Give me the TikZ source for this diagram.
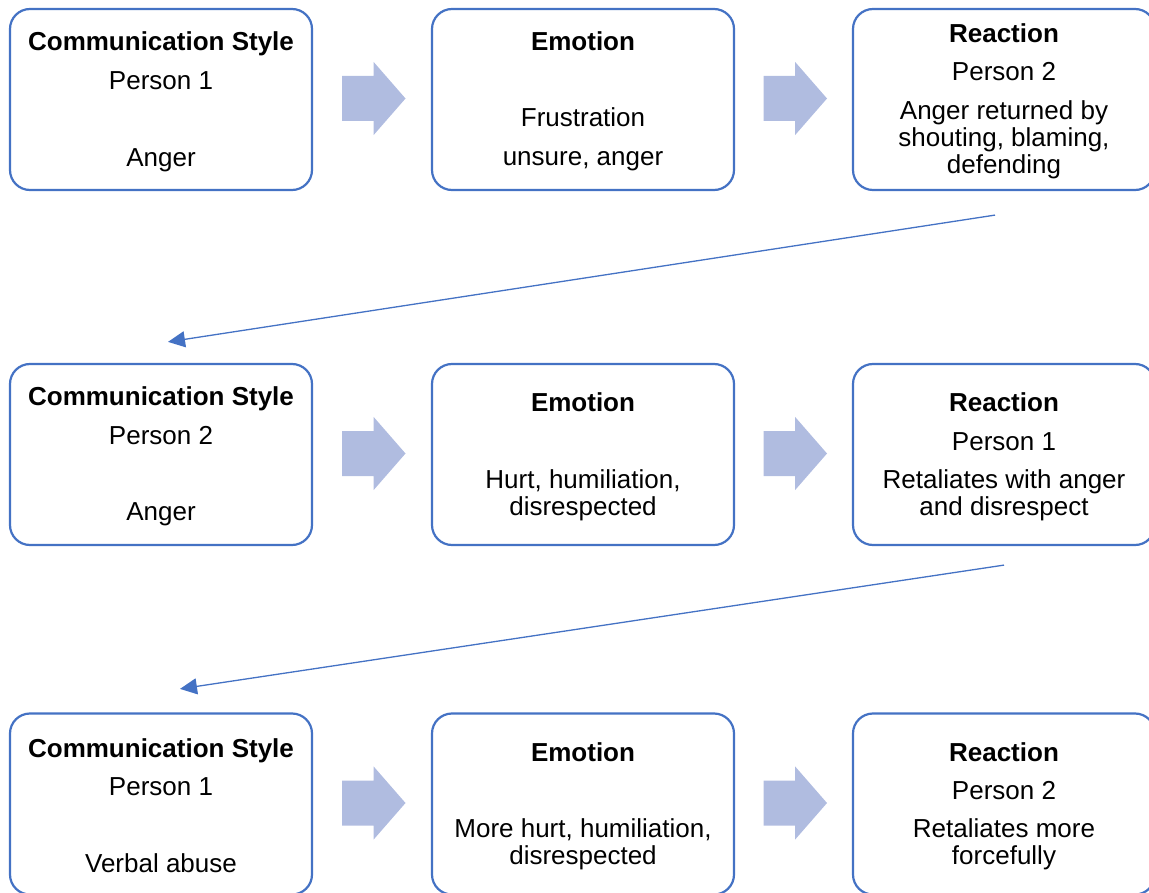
\documentclass[tikz,border=0pt]{standalone}
\usepackage{fontspec}
\setmainfont{Liberation Sans}
\usetikzlibrary{arrows.meta,calc}
\definecolor{boxblue}{RGB}{68,114,196}
\definecolor{arrowfill}{RGB}{176,188,224}
\tikzset{
  stage/.style={draw=boxblue, line width=2.2pt, rounded corners=20pt, fill=white,
    minimum width=302pt, minimum height=181pt, align=center, inner sep=0pt,
    font=\fontsize{26}{27}\selectfont},
  flowline/.style={draw=boxblue, line width=1.3pt, -{Triangle[length=17pt,width=16pt]}},
  pics/blockarr/.style={code={
    \fill[arrowfill] (-31.5,-22.5) -- (0,-22.5) -- (0,-36.7) -- (32,0)
      -- (0,36.7) -- (0,22.5) -- (-31.5,22.5) -- cycle;}}
}
% bold heading with a strut that sets the first line a little lower
\newcommand{\ttl}[1]{\rule{0pt}{23pt}\textbf{#1}}
\begin{document}
\begin{tikzpicture}[x=1pt,y=-1pt]
\useasboundingbox (0,0) rectangle (1149,893);
\clip (0,0) rectangle (1149,893);

% row 1
\node[stage] (c11) at (161,99.5) {\ttl{Communication Style}\\[11.5pt] Person 1\\[50pt] Anger};
\node[stage] (e12) at (583,99.5) {\ttl{Emotion}\\[49pt] Frustration\\[12pt] unsure, anger};
\node[stage] (r13) at (1004,99.5) {\ttl{Reaction}\\[11pt] Person 2\\[12pt] Anger returned by\\ shouting, blaming,\\ defending};

% row 2
\node[stage] (c21) at (161,454.5) {\ttl{Communication Style}\\[12pt] Person 2\\[49pt] Anger};
\node[stage] (e22) at (583,454.5) {\ttl{Emotion}\\[50pt] Hurt, humiliation,\\ disrespected};
\node[stage] (r23) at (1004,454.5) {\ttl{Reaction}\\[12pt] Person 1\\[11pt] Retaliates with anger\\ and disrespect};

% row 3
\node[stage] (c31) at (161,804) {\ttl{Communication Style}\\[11pt] Person 1\\[50pt] Verbal abuse};
\node[stage] (e32) at (583,804) {\ttl{Emotion}\\[49pt] More hurt, humiliation,\\ disrespected};
\node[stage] (r33) at (1004,804) {\ttl{Reaction}\\[11pt] Person 2\\[11pt] Retaliates more\\ forcefully};

% block arrows between stages
\foreach \a/\b in {c11/e12,e12/r13,c21/e22,e22/r23,c31/e32,e32/r33}{
  \pic at ($(\a.east)!0.5!(\b.west)+(1.5,-1)$) {blockarr};
}

% connectors from each reaction to the next communication style
\coordinate (s1) at ($(r13.south)+(-9,24)$);
\coordinate (t1) at ($(c21.north)+(7,-21)$);
\coordinate (s2) at ($(r23.south)+(0,19)$);
\coordinate (t2) at ($(c31.north)+(19,-23.5)$);
\draw[flowline] (s1) -- (t1);
\draw[flowline] (s2) -- (t2);
\end{tikzpicture}
\end{document}
